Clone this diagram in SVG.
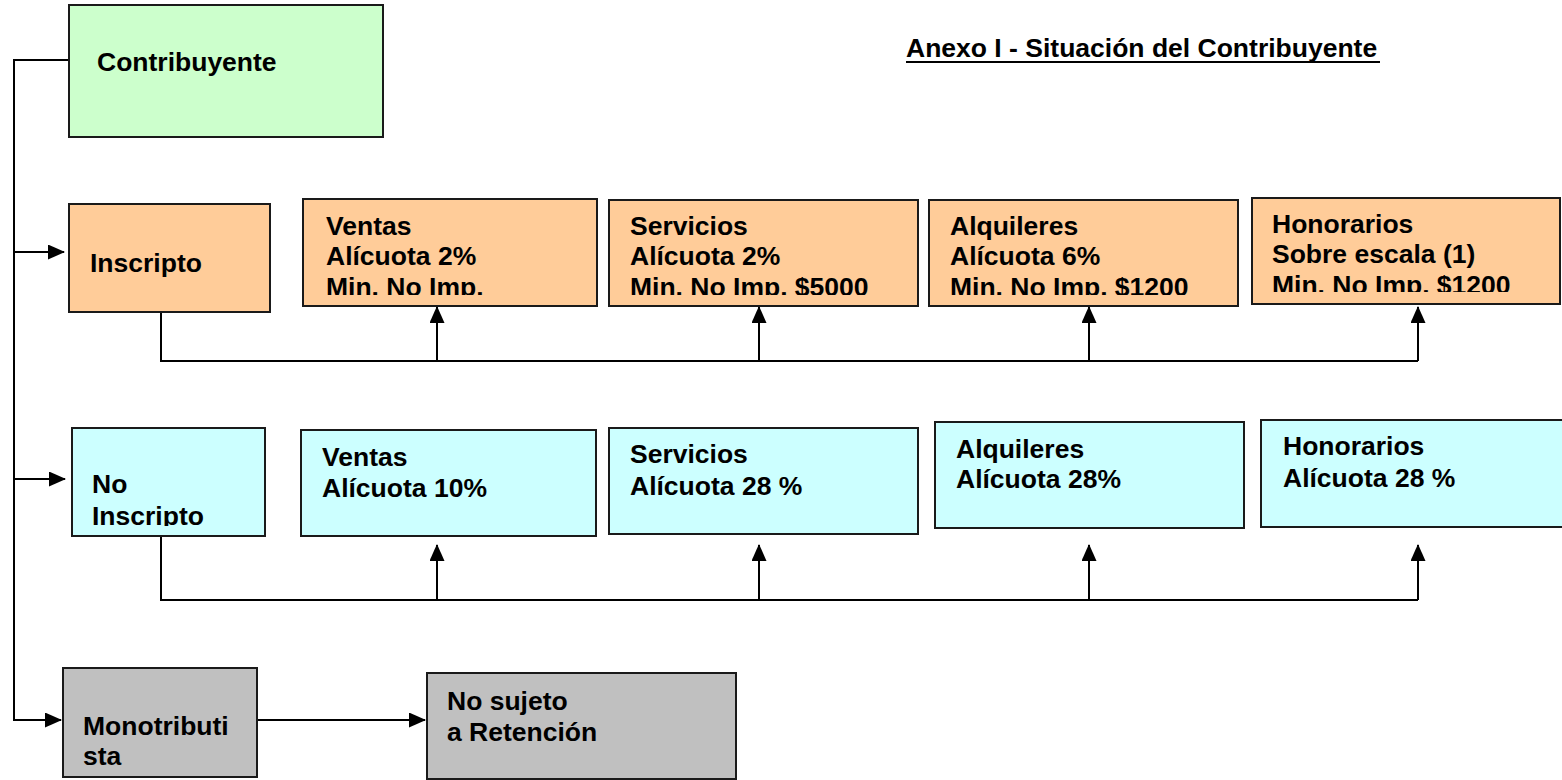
<svg xmlns="http://www.w3.org/2000/svg" width="1562" height="780" viewBox="0 0 1562 780">
<style>
.box{stroke:#1a1a1a;stroke-width:2}
.g{fill:#CCFFCC}.o{fill:#FFCC99}.c{fill:#CCFFFF}.s{fill:#C0C0C0}
text{font-family:"Liberation Sans",Arial,sans-serif;font-weight:bold;font-size:26.5px;fill:#000}
.ln{stroke:#000;stroke-width:2;fill:none}
</style>
<defs>
<marker id="ah" viewBox="0 0 17 15" refX="16" refY="7.5" markerWidth="17" markerHeight="15" markerUnits="userSpaceOnUse" orient="auto">
<path d="M0,0 L17,7.5 L0,15 Z" fill="#000"/>
</marker>
<clipPath id="cVo"><rect x="285" y="200" width="312" height="95"/></clipPath>
<clipPath id="cSo"><rect x="609" y="200" width="309" height="95"/></clipPath>
<clipPath id="cAo"><rect x="929" y="200" width="309" height="95"/></clipPath>
<clipPath id="cHo"><rect x="1252" y="198" width="308" height="94"/></clipPath>
<clipPath id="cNI"><rect x="72" y="428" width="193" height="98"/></clipPath>
</defs>

<text x="906" y="57">Anexo I - Situación del Contribuyente</text>
<line x1="906" y1="62" x2="1380" y2="62" stroke="#000" stroke-width="2"/>

<g id="connectors">
<polyline class="ln" points="68,60 13,60"/>
<line class="ln" x1="14" y1="59" x2="14" y2="721"/>
<line class="ln" x1="14" y1="252" x2="64" y2="252" marker-end="url(#ah)"/>
<line class="ln" x1="14" y1="479" x2="65" y2="479" marker-end="url(#ah)"/>
<line class="ln" x1="14" y1="720" x2="61" y2="720" marker-end="url(#ah)"/>
<polyline class="ln" points="161,312 161,361 1418,361"/>
<line class="ln" x1="437" y1="361" x2="437" y2="307" marker-end="url(#ah)"/>
<line class="ln" x1="759" y1="361" x2="759" y2="307" marker-end="url(#ah)"/>
<line class="ln" x1="1089" y1="361" x2="1089" y2="307" marker-end="url(#ah)"/>
<line class="ln" x1="1418" y1="361" x2="1418" y2="307" marker-end="url(#ah)"/>
<polyline class="ln" points="161,536 161,600 1418,600"/>
<line class="ln" x1="437" y1="600" x2="437" y2="545" marker-end="url(#ah)"/>
<line class="ln" x1="759" y1="600" x2="759" y2="545" marker-end="url(#ah)"/>
<line class="ln" x1="1089" y1="600" x2="1089" y2="545" marker-end="url(#ah)"/>
<line class="ln" x1="1418" y1="600" x2="1418" y2="545" marker-end="url(#ah)"/>
<line class="ln" x1="257" y1="720" x2="425" y2="720" marker-end="url(#ah)"/>
</g>

<g id="contribuyente">
<rect class="box g" x="69" y="5" width="314" height="132"/>
<text x="97" y="71">Contribuyente</text>
</g>

<g id="inscripto">
<rect class="box o" x="69" y="204" width="201" height="108"/>
<text x="90" y="272">Inscripto</text>
</g>
<g id="ins-ventas">
<rect class="box o" x="303" y="199" width="294" height="107"/>
<g clip-path="url(#cVo)"><text x="326" y="235">Ventas</text><text x="326" y="265">Alícuota 2%</text><text x="326" y="296">Min. No Imp.</text></g>
</g>
<g id="ins-servicios">
<rect class="box o" x="609" y="200" width="309" height="106"/>
<g clip-path="url(#cSo)"><text x="630" y="235">Servicios</text><text x="630" y="265">Alícuota 2%</text><text x="630" y="296">Min. No Imp. $5000</text></g>
</g>
<g id="ins-alquileres">
<rect class="box o" x="929" y="200" width="309" height="106"/>
<g clip-path="url(#cAo)"><text x="950" y="235">Alquileres</text><text x="950" y="265">Alícuota 6%</text><text x="950" y="296">Min. No Imp. $1200</text></g>
</g>
<g id="ins-honorarios">
<rect class="box o" x="1252" y="198" width="308" height="106"/>
<g clip-path="url(#cHo)"><text x="1272" y="233">Honorarios</text><text x="1272" y="263">Sobre escala (1)</text><text x="1272" y="294">Min. No Imp. $1200</text></g>
</g>

<g id="no-inscripto">
<rect class="box c" x="72" y="428" width="193" height="108"/>
<g clip-path="url(#cNI)"><text x="92" y="493">No</text><text x="92" y="525">Inscripto</text></g>
</g>
<g id="ni-ventas">
<rect class="box c" x="301" y="430" width="295" height="106"/>
<text x="322" y="466">Ventas</text><text x="322" y="497">Alícuota 10%</text>
</g>
<g id="ni-servicios">
<rect class="box c" x="609" y="428" width="309" height="106"/>
<text x="630" y="463">Servicios</text><text x="630" y="495">Alícuota 28 %</text>
</g>
<g id="ni-alquileres">
<rect class="box c" x="935" y="422" width="309" height="106"/>
<text x="956" y="458">Alquileres</text><text x="956" y="488">Alícuota 28%</text>
</g>
<g id="ni-honorarios">
<rect class="box c" x="1261" y="420" width="306" height="107"/>
<text x="1283" y="455">Honorarios</text><text x="1283" y="487">Alícuota 28 %</text>
</g>

<g id="monotributista">
<rect class="box s" x="63" y="668" width="194" height="109"/>
<text x="83" y="735">Monotributi</text><text x="83" y="765">sta</text>
</g>
<g id="no-sujeto">
<rect class="box s" x="427" y="673" width="309" height="106"/>
<text x="447" y="710">No sujeto</text><text x="447" y="741">a Retención</text>
</g>
</svg>
